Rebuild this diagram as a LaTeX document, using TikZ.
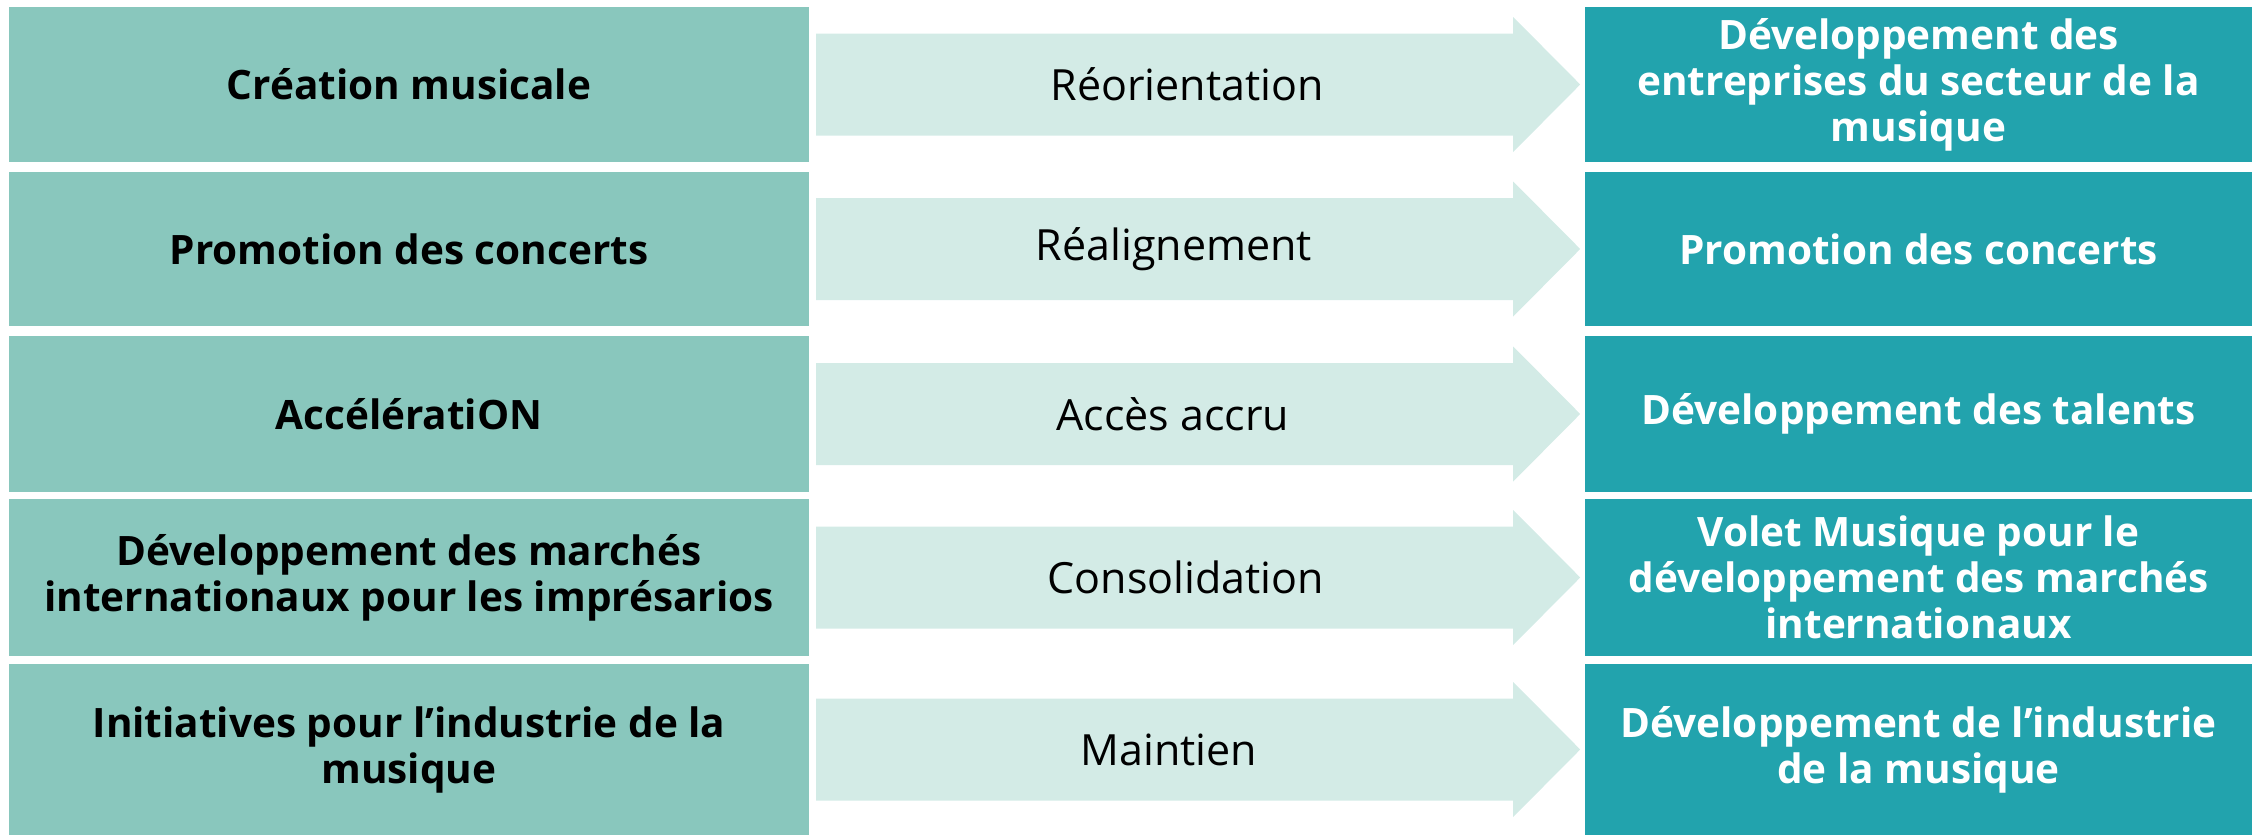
\documentclass[tikz,border=0pt]{standalone}
\usepackage{fontspec}
\setmainfont{Open Sans}
\usetikzlibrary{calc}
\definecolor{leftc}{RGB}{137,199,189}
\definecolor{arrowc}{RGB}{211,235,230}
\definecolor{rightc}{RGB}{34,163,173}
\begin{document}
\begin{tikzpicture}[x=1pt,y=-1pt,
  leftbox/.style={fill=leftc, minimum width=800pt, inner sep=0pt, align=center, text=black, font=\bfseries\fontsize{40.5}{46}\selectfont},
  rightbox/.style={fill=rightc, minimum width=667pt, inner sep=0pt, align=center, text=white, font=\bfseries\fontsize{40.5}{46}\selectfont},
  midtext/.style={inner sep=0pt, align=center, text=black, font=\fontsize{43}{46}\selectfont},
  arrowshape/.style={fill=arrowc}]
\useasboundingbox (0,0) rectangle (2257,835);
\foreach \i/\cy/\h/\mx/\lt/\mt/\rt in {
  1/84.5/155/1187/{Création musicale}/{Réorientation}/{Développement des\\entreprises du secteur de la\\musique},
  2/249/154/1174/{Promotion des concerts}/{Réalignement}/{Promotion des concerts},
  3/414/156/1173/{AccélératiON}/{Accès accru}/{Développement des talents},
  4/577.5/157/1186/{Développement des marchés\\internationaux pour les imprésarios}/{Consolidation}/{Volet Musique pour le\\développement des marchés\\internationaux},
  5/749.5/171/1169/{Initiatives pour l’industrie de la\\musique}/{Maintien}/{Développement de l’industrie\\de la musique}} {
  \node[leftbox, minimum height=\h pt] (l\i) at (409,\cy) {\lt};
  \node[rightbox, minimum height=\h pt] (r\i) at (1918.5,\cy) {\rt};
  \fill[arrowshape] ($(l\i.east)+(7,-51)$) -- ++(697,0) -- ++(0,-16.5) -- ++(67,67.5) -- ++(-67,67.5) -- ++(0,-16.5) -- ++(-697,0) -- cycle;
  \node[midtext] (m\i) at (\mx,\cy) {\mt};
}
\end{tikzpicture}
\end{document}
